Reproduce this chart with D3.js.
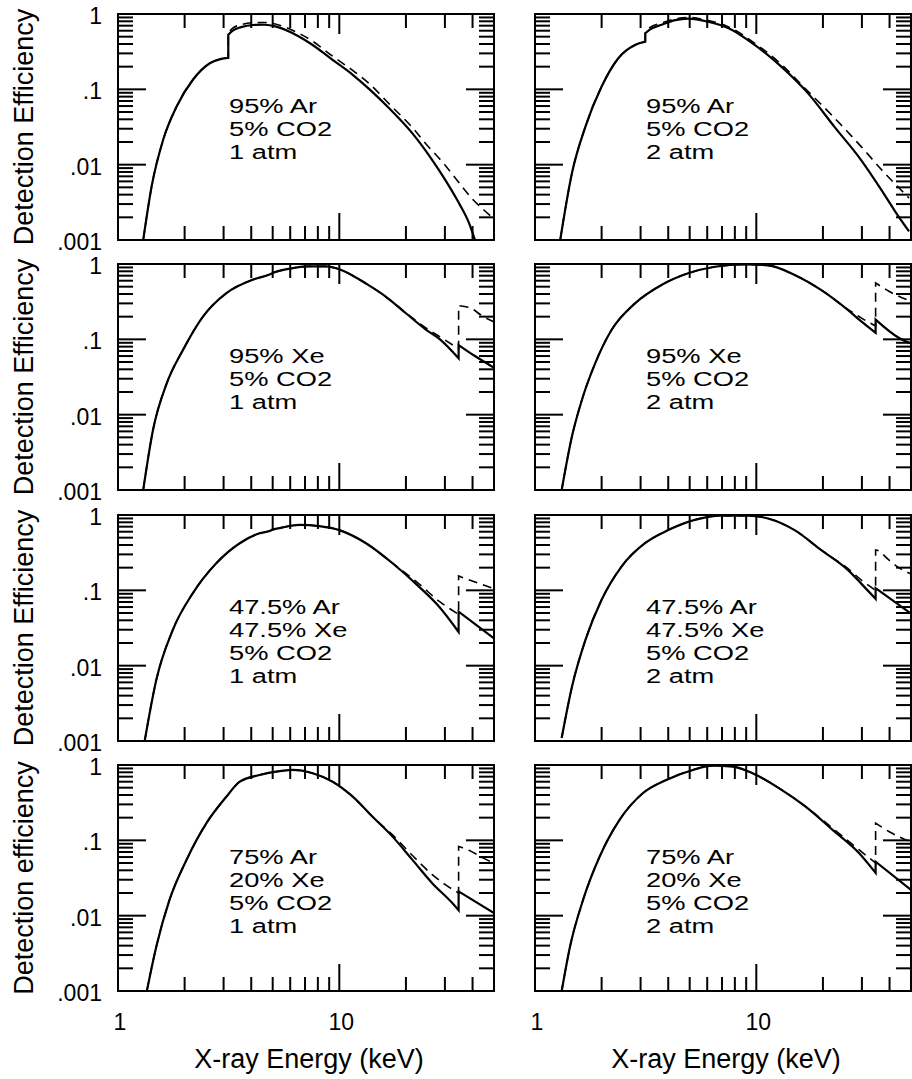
<!DOCTYPE html>
<html>
<head>
<meta charset="utf-8">
<script src="https://cdn.jsdelivr.net/npm/d3@7"></script>
<style>
  body { margin: 0; background: #fff; }
  svg text { font-family: "Liberation Sans", Arial, Helvetica, sans-serif; fill: #000; }
</style>
</head>
<body>
<svg id="chart" width="912" height="1079"></svg>
<script>
// axes
const ENERGY_DOMAIN = [1, 50];
const EFF_DOMAIN = [0.001, 1];
const energyTickValues = [1, 10];
const energyTickLabels = ["1", "10"];
const effTickValues = [1, 0.1, 0.01, 0.001];
const effTickLabels = ["1", ".1", ".01", ".001"];

const xTitle = "X-ray Energy (keV)";
const yTitles = ["Detection Efficiency", "Detection Efficiency", "Detection Efficiency", "Detection efficiency"];

// gas mixture labels, row by row (left, right)
const gasLabels = [
  ["95% Ar", "5% CO2", "1 atm"],
  ["95% Ar", "5% CO2", "2 atm"],
  ["95% Xe", "5% CO2", "1 atm"],
  ["95% Xe", "5% CO2", "2 atm"],
  ["47.5% Ar", "47.5% Xe", "5% CO2", "1 atm"],
  ["47.5% Ar", "47.5% Xe", "5% CO2", "2 atm"],
  ["75% Ar", "20% Xe", "5% CO2", "1 atm"],
  ["75% Ar", "20% Xe", "5% CO2", "2 atm"]
];

// [energy keV, efficiency] -- solid and dashed curves
const ar1Solid = [[1.30,0.001],[1.42,0.0052],[1.60,0.0214],[1.84,0.059],[2.18,0.134],[2.60,0.222],[2.90,0.252],[3.15,0.262],[3.15,0.53],[3.3,0.6],[3.6,0.67],[4.07,0.715],[4.6,0.72],[5.18,0.68],[6.6,0.50],[7.58,0.388],[9.33,0.246],[11.5,0.156],[13.7,0.10],[16.8,0.056],[21.4,0.026],[26.3,0.0115],[30.2,0.0062],[34.7,0.0031],[38.5,0.0017],[41,0.001]];
const ar1Dashed = [[1.30,0.001],[1.42,0.0052],[1.60,0.0214],[1.84,0.059],[2.18,0.134],[2.60,0.222],[2.90,0.252],[3.15,0.262],[3.15,0.56],[3.3,0.65],[3.6,0.72],[4.07,0.765],[4.6,0.77],[5.18,0.73],[6.6,0.55],[7.58,0.435],[9.33,0.275],[11.5,0.178],[13.7,0.118],[16.8,0.064],[21.4,0.031],[24.6,0.019],[30.2,0.0097],[34.7,0.0058],[39.9,0.0035],[45,0.0025],[50,0.0019]];

const ar2Solid = [[1.30,0.001],[1.47,0.0078],[1.69,0.032],[2.0,0.109],[2.38,0.259],[2.83,0.388],[3.15,0.43],[3.15,0.555],[3.3,0.62],[3.73,0.72],[4.3,0.83],[4.92,0.87],[6.06,0.79],[7.46,0.65],[9.83,0.388],[12.97,0.2],[17.1,0.089],[22.5,0.032],[29.7,0.0116],[36.6,0.0047],[42,0.0025],[49,0.0013]];
const ar2Dashed = [[1.30,0.001],[1.47,0.0078],[1.69,0.032],[2.0,0.109],[2.38,0.259],[2.83,0.388],[3.15,0.43],[3.15,0.58],[3.3,0.66],[3.73,0.76],[4.3,0.86],[4.92,0.9],[6.06,0.82],[7.46,0.68],[9.83,0.41],[12.97,0.215],[16.5,0.105],[22.5,0.042],[29.7,0.0175],[37.9,0.0078],[43.3,0.0052],[49,0.0036]];

const xe1Solid = [[1.30,0.001],[1.44,0.0063],[1.66,0.026],[1.97,0.073],[2.42,0.2],[3.09,0.41],[4.07,0.62],[4.8,0.72],[5.0,0.76],[6.0,0.87],[7.2,0.93],[8.7,0.93],[10.0,0.85],[11.5,0.70],[13.2,0.55],[16.2,0.37],[20,0.222],[24.6,0.135],[28.5,0.1],[34.6,0.056],[34.6,0.084],[41,0.06],[50,0.042]];
const xe1Dashed = [[1.30,0.001],[1.44,0.0063],[1.66,0.026],[1.97,0.073],[2.42,0.2],[3.09,0.41],[4.07,0.62],[4.8,0.72],[5.0,0.76],[6.0,0.87],[7.2,0.93],[8.7,0.93],[10.0,0.85],[11.5,0.70],[13.2,0.55],[16.2,0.37],[20,0.225],[24.6,0.142],[28.5,0.108],[34.6,0.075],[34.6,0.28],[39.2,0.26],[44.2,0.205],[50,0.17]];

const xe2Solid = [[1.32,0.001],[1.47,0.0052],[1.63,0.0158],[1.87,0.048],[2.22,0.134],[2.83,0.30],[3.73,0.527],[4.92,0.753],[6.5,0.92],[8.86,0.99],[11.3,0.96],[14.9,0.715],[19.6,0.453],[25.9,0.246],[30,0.17],[34.6,0.122],[34.6,0.183],[44,0.105],[50,0.088]];
const xe2Dashed = [[1.32,0.001],[1.47,0.0052],[1.63,0.0158],[1.87,0.048],[2.22,0.134],[2.83,0.30],[3.73,0.527],[4.92,0.753],[6.5,0.92],[8.86,0.99],[11.3,0.96],[14.9,0.715],[19.6,0.453],[25.9,0.25],[30,0.19],[34.6,0.15],[34.6,0.56],[36.5,0.507],[39.7,0.435],[50,0.32]];

const arxe1Solid = [[1.32,0.001],[1.49,0.0065],[1.77,0.03],[2.18,0.092],[2.78,0.229],[3.55,0.422],[4.36,0.572],[4.8,0.61],[5.0,0.64],[5.5,0.68],[6.6,0.74],[8.13,0.71],[10,0.63],[13.2,0.422],[17.4,0.229],[22.9,0.112],[28.2,0.061],[34.6,0.028],[34.6,0.052],[50,0.023]];
const arxe1Dashed = [[1.32,0.001],[1.49,0.0065],[1.77,0.03],[2.18,0.092],[2.78,0.229],[3.55,0.422],[4.36,0.572],[4.8,0.61],[5.0,0.64],[5.5,0.68],[6.6,0.74],[8.13,0.71],[10,0.63],[13.2,0.422],[17.4,0.229],[22.9,0.122],[28.2,0.072],[34.6,0.048],[34.6,0.155],[44,0.12],[50,0.105]];

const arxe2Solid = [[1.32,0.0011],[1.47,0.0053],[1.69,0.022],[2.0,0.075],[2.46,0.207],[3.14,0.422],[4.0,0.63],[5.27,0.86],[6.96,0.98],[9.2,0.98],[11.3,0.90],[14.9,0.63],[19.6,0.344],[25.9,0.187],[30,0.12],[34.6,0.077],[34.6,0.107],[50,0.049]];
const arxe2Dashed = [[1.32,0.0011],[1.47,0.0053],[1.69,0.022],[2.0,0.075],[2.46,0.207],[3.14,0.422],[4.0,0.63],[5.27,0.86],[6.96,0.98],[9.2,0.98],[11.3,0.90],[14.9,0.63],[19.6,0.344],[25.9,0.195],[30,0.135],[34.6,0.1],[34.6,0.344],[35.2,0.34],[39.7,0.253],[44,0.2],[50,0.165]];

const ar75xe1Solid = [[1.35,0.001],[1.49,0.0039],[1.71,0.0163],[2.04,0.055],[2.51,0.169],[3.09,0.38],[3.55,0.60],[4.36,0.737],[5.18,0.816],[6.16,0.86],[7.58,0.776],[9.33,0.60],[11.5,0.38],[14.1,0.207],[17.4,0.112],[21.4,0.055],[26.3,0.027],[32.4,0.0147],[34.6,0.0118],[34.6,0.021],[50,0.0108]];
const ar75xe1Dashed = [[1.35,0.001],[1.49,0.0039],[1.71,0.0163],[2.04,0.055],[2.51,0.169],[3.09,0.38],[3.55,0.60],[4.36,0.737],[5.18,0.816],[6.16,0.86],[7.58,0.776],[9.33,0.60],[11.5,0.38],[14.1,0.207],[17.4,0.118],[21.4,0.063],[26.3,0.035],[30,0.026],[34.6,0.02],[34.6,0.083],[38.5,0.074],[44.8,0.058],[50,0.05]];

const ar75xe2Solid = [[1.32,0.001],[1.44,0.0039],[1.65,0.0163],[1.96,0.061],[2.41,0.187],[3.07,0.422],[3.92,0.633],[5.17,0.86],[6.35,0.98],[7.82,0.95],[9.62,0.776],[12.7,0.49],[16.7,0.28],[22.1,0.138],[29.1,0.068],[34.6,0.037],[34.6,0.052],[50,0.022]];
const ar75xe2Dashed = [[1.32,0.001],[1.44,0.0039],[1.65,0.0163],[1.96,0.061],[2.41,0.187],[3.07,0.422],[3.92,0.633],[5.17,0.86],[6.35,0.98],[7.82,0.95],[9.62,0.776],[12.7,0.49],[16.7,0.28],[22.1,0.145],[29.1,0.075],[34.6,0.05],[34.6,0.169],[39.7,0.131],[50,0.095]];

const panels = [
  { solid: ar1Solid, dashed: ar1Dashed },
  { solid: ar2Solid, dashed: ar2Dashed },
  { solid: xe1Solid, dashed: xe1Dashed },
  { solid: xe2Solid, dashed: xe2Dashed },
  { solid: arxe1Solid, dashed: arxe1Dashed },
  { solid: arxe2Solid, dashed: arxe2Dashed },
  { solid: ar75xe1Solid, dashed: ar75xe1Dashed },
  { solid: ar75xe2Solid, dashed: ar75xe2Dashed }
];

(function () {
  const PANEL_W = 376;
  const PANEL_H = 226;
  const COL_X = [118, 535];
  const ROW_Y = [14, 264, 515, 765];
  const MAJOR_TICK = 27;
  const MINOR_TICK = 14;
  const LABEL_SCALE = 1.3;  // the original lettering is stretched sideways

  const svg = d3.select("#chart");

  panels.forEach((p, i) => {
    const col = i % 2;
    const row = Math.floor(i / 2);
    drawPanel(p, gasLabels[i], COL_X[col], ROW_Y[row], col, row);
  });

  // y titles, one per row
  yTitles.forEach((t, row) => {
    svg.append("text")
      .attr("transform", `translate(33,${ROW_Y[row] + PANEL_H / 2}) rotate(-90)`)
      .attr("text-anchor", "middle")
      .style("font-size", "27px")
      .text(t);
  });

  // x titles under both columns
  COL_X.forEach((left) => {
    svg.append("text")
      .attr("x", left + PANEL_W / 2 + 3)
      .attr("y", 1068)
      .attr("text-anchor", "middle")
      .style("font-size", "27px")
      .text(xTitle);
  });

  function drawPanel(p, labels, left, top, col, row) {
    const x = d3.scaleLog().domain(ENERGY_DOMAIN).range([left, left + PANEL_W]);
    const y = d3.scaleLog().domain(EFF_DOMAIN).range([top + PANEL_H, top]);
    const g = svg.append("g");
    const clipId = `clip-${col}-${row}`;

    g.append("clipPath").attr("id", clipId)
      .append("rect")
      .attr("x", left).attr("y", top - 1)
      .attr("width", PANEL_W).attr("height", PANEL_H + 1);

    const curves = g.append("g").attr("clip-path", `url(#${clipId})`);
    curves.append("path")
      .attr("d", curvePath(p.dashed, x, y))
      .attr("fill", "none")
      .attr("stroke", "#000")
      .attr("stroke-width", 1.6)
      .attr("stroke-dasharray", "9,6");
    curves.append("path")
      .attr("d", curvePath(p.solid, x, y))
      .attr("fill", "none")
      .attr("stroke", "#000")
      .attr("stroke-width", 2.2);

    // ticks on all four sides
    const isMajor = (v) => Math.abs(Math.log10(v) - Math.round(Math.log10(v))) < 1e-9;
    const ticks = g.append("g").attr("stroke", "#000").attr("stroke-width", 2);
    x.ticks().forEach((v) => {
      const px = x(v);
      const major = isMajor(v);
      ticks.append("line")
        .attr("x1", px).attr("x2", px)
        .attr("y1", top + PANEL_H).attr("y2", top + PANEL_H - (major ? MAJOR_TICK : MINOR_TICK));
      ticks.append("line")
        .attr("x1", px).attr("x2", px)
        .attr("y1", top).attr("y2", top + (major ? 20 : MINOR_TICK));
    });
    y.ticks().forEach((v) => {
      const py = y(v);
      const len = isMajor(v) ? 28 : 15;
      ticks.append("line")
        .attr("x1", left).attr("x2", left + len)
        .attr("y1", py).attr("y2", py);
      ticks.append("line")
        .attr("x1", left + PANEL_W).attr("x2", left + PANEL_W - len)
        .attr("y1", py).attr("y2", py);
    });

    g.append("rect")
      .attr("x", left).attr("y", top)
      .attr("width", PANEL_W).attr("height", PANEL_H)
      .attr("fill", "none")
      .attr("stroke", "#000")
      .attr("stroke-width", 2);

    // tick labels: efficiency on the left column only, energy on the bottom row only
    if (col === 0) {
      effTickValues.forEach((v, k) => {
        g.append("text")
          .attr("x", left - 16)
          .attr("y", y(v) + 10)
          .attr("text-anchor", "end")
          .style("font-size", "23px")
          .text(effTickLabels[k]);
      });
    }
    if (row === 3) {
      energyTickValues.forEach((v, k) => {
        g.append("text")
          .attr("x", x(v) + 2)
          .attr("y", 1030)
          .attr("text-anchor", "middle")
          .style("font-size", "23px")
          .text(energyTickLabels[k]);
      });
    }

    labels.forEach((line, k) => {
      g.append("text")
        .attr("transform", `translate(${left + 111},${top + 99 + k * 23}) scale(${LABEL_SCALE},1)`)
        .style("font-size", "21px")
        .text(line);
    });
  }

  // monotone pieces between absorption edges, joined by vertical steps
  function curvePath(points, x, y) {
    const pieces = [[points[0]]];
    for (let k = 1; k < points.length; k++) {
      if (points[k][0] === points[k - 1][0]) pieces.push([]);
      pieces[pieces.length - 1].push(points[k]);
    }
    const line = d3.line()
      .x((d) => x(d[0]))
      .y((d) => y(d[1]))
      .curve(d3.curveMonotoneX);
    return pieces.map((piece, k) => {
      const d = line(piece);
      return k === 0 ? d : "L" + d.slice(1);
    }).join("");
  }
})();
</script>
</body>
</html>
